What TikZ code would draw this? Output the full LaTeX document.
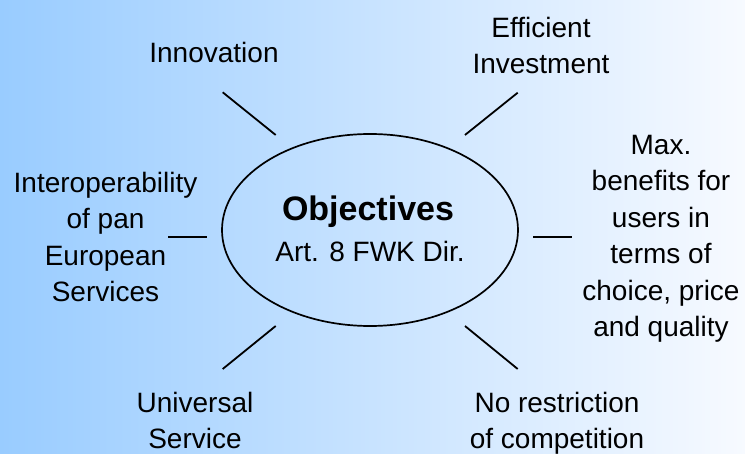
\documentclass[tikz,border=0pt]{standalone}
\usepackage{fontspec}
\setmainfont{Liberation Sans}
\usetikzlibrary{shapes.geometric}
\definecolor{bgleft}{RGB}{153,204,255}
\definecolor{bgright}{RGB}{247,250,255}
\begin{document}
\begin{tikzpicture}[x=1pt,y=-1pt,
  lbl/.style={inner sep=0pt,align=center,font=\fontsize{28}{36.5}\selectfont},
  ray/.style={draw=black,line width=1.8pt},
  centre/.style={draw=black,line width=1.7pt,ellipse,minimum width=296pt,minimum height=192pt,inner sep=0pt}]
\useasboundingbox (0,0) rectangle (745,454);
\shade[left color=bgleft,right color=bgright] (0,0) rectangle (745,454);
% central ellipse
\node[centre] (obj) at (370,230) {};
\node[inner sep=0pt,anchor=base,font=\fontsize{34}{40}\selectfont\bfseries] (objt) at (368,221) {Objectives};
\node[inner sep=0pt,anchor=base,font=\fontsize{28}{34}\selectfont] (art) at (370,262) {Art. 8 FWK Dir.};
% labels
\node[lbl,anchor=base] (inno) at (214,63) {Innovation};
\node[lbl,anchor=north] (eff) at (541,17) {Efficient\\Investment};
\node[lbl,anchor=north] (inter) at (105.5,172) {Interoperability\\of pan\\European\\Services};
\node[lbl,anchor=north] (max) at (661,135) {Max.\\benefits for\\users in\\terms of\\choice, price\\and quality};
\node[lbl,anchor=north] (univ) at (195,392) {Universal\\Service};
\node[lbl,anchor=north] (norest) at (557,392) {No restriction\\of competition};
% ray end points
\coordinate (tl1) at (222.7,92.3);  \coordinate (tl2) at (275.7,135);
\coordinate (tr1) at (465,135);     \coordinate (tr2) at (517.7,92.7);
\coordinate (l1)  at (168,237);     \coordinate (l2)  at (207,237);
\coordinate (r1)  at (533,237);     \coordinate (r2)  at (572,237);
\coordinate (bl1) at (222.7,369);   \coordinate (bl2) at (275.7,326);
\coordinate (br1) at (465,326);     \coordinate (br2) at (517.7,369);
\draw[ray] (tl1) -- (tl2);
\draw[ray] (tr1) -- (tr2);
\draw[ray] (l1) -- (l2);
\draw[ray] (r1) -- (r2);
\draw[ray] (bl1) -- (bl2);
\draw[ray] (br1) -- (br2);
\end{tikzpicture}
\end{document}
